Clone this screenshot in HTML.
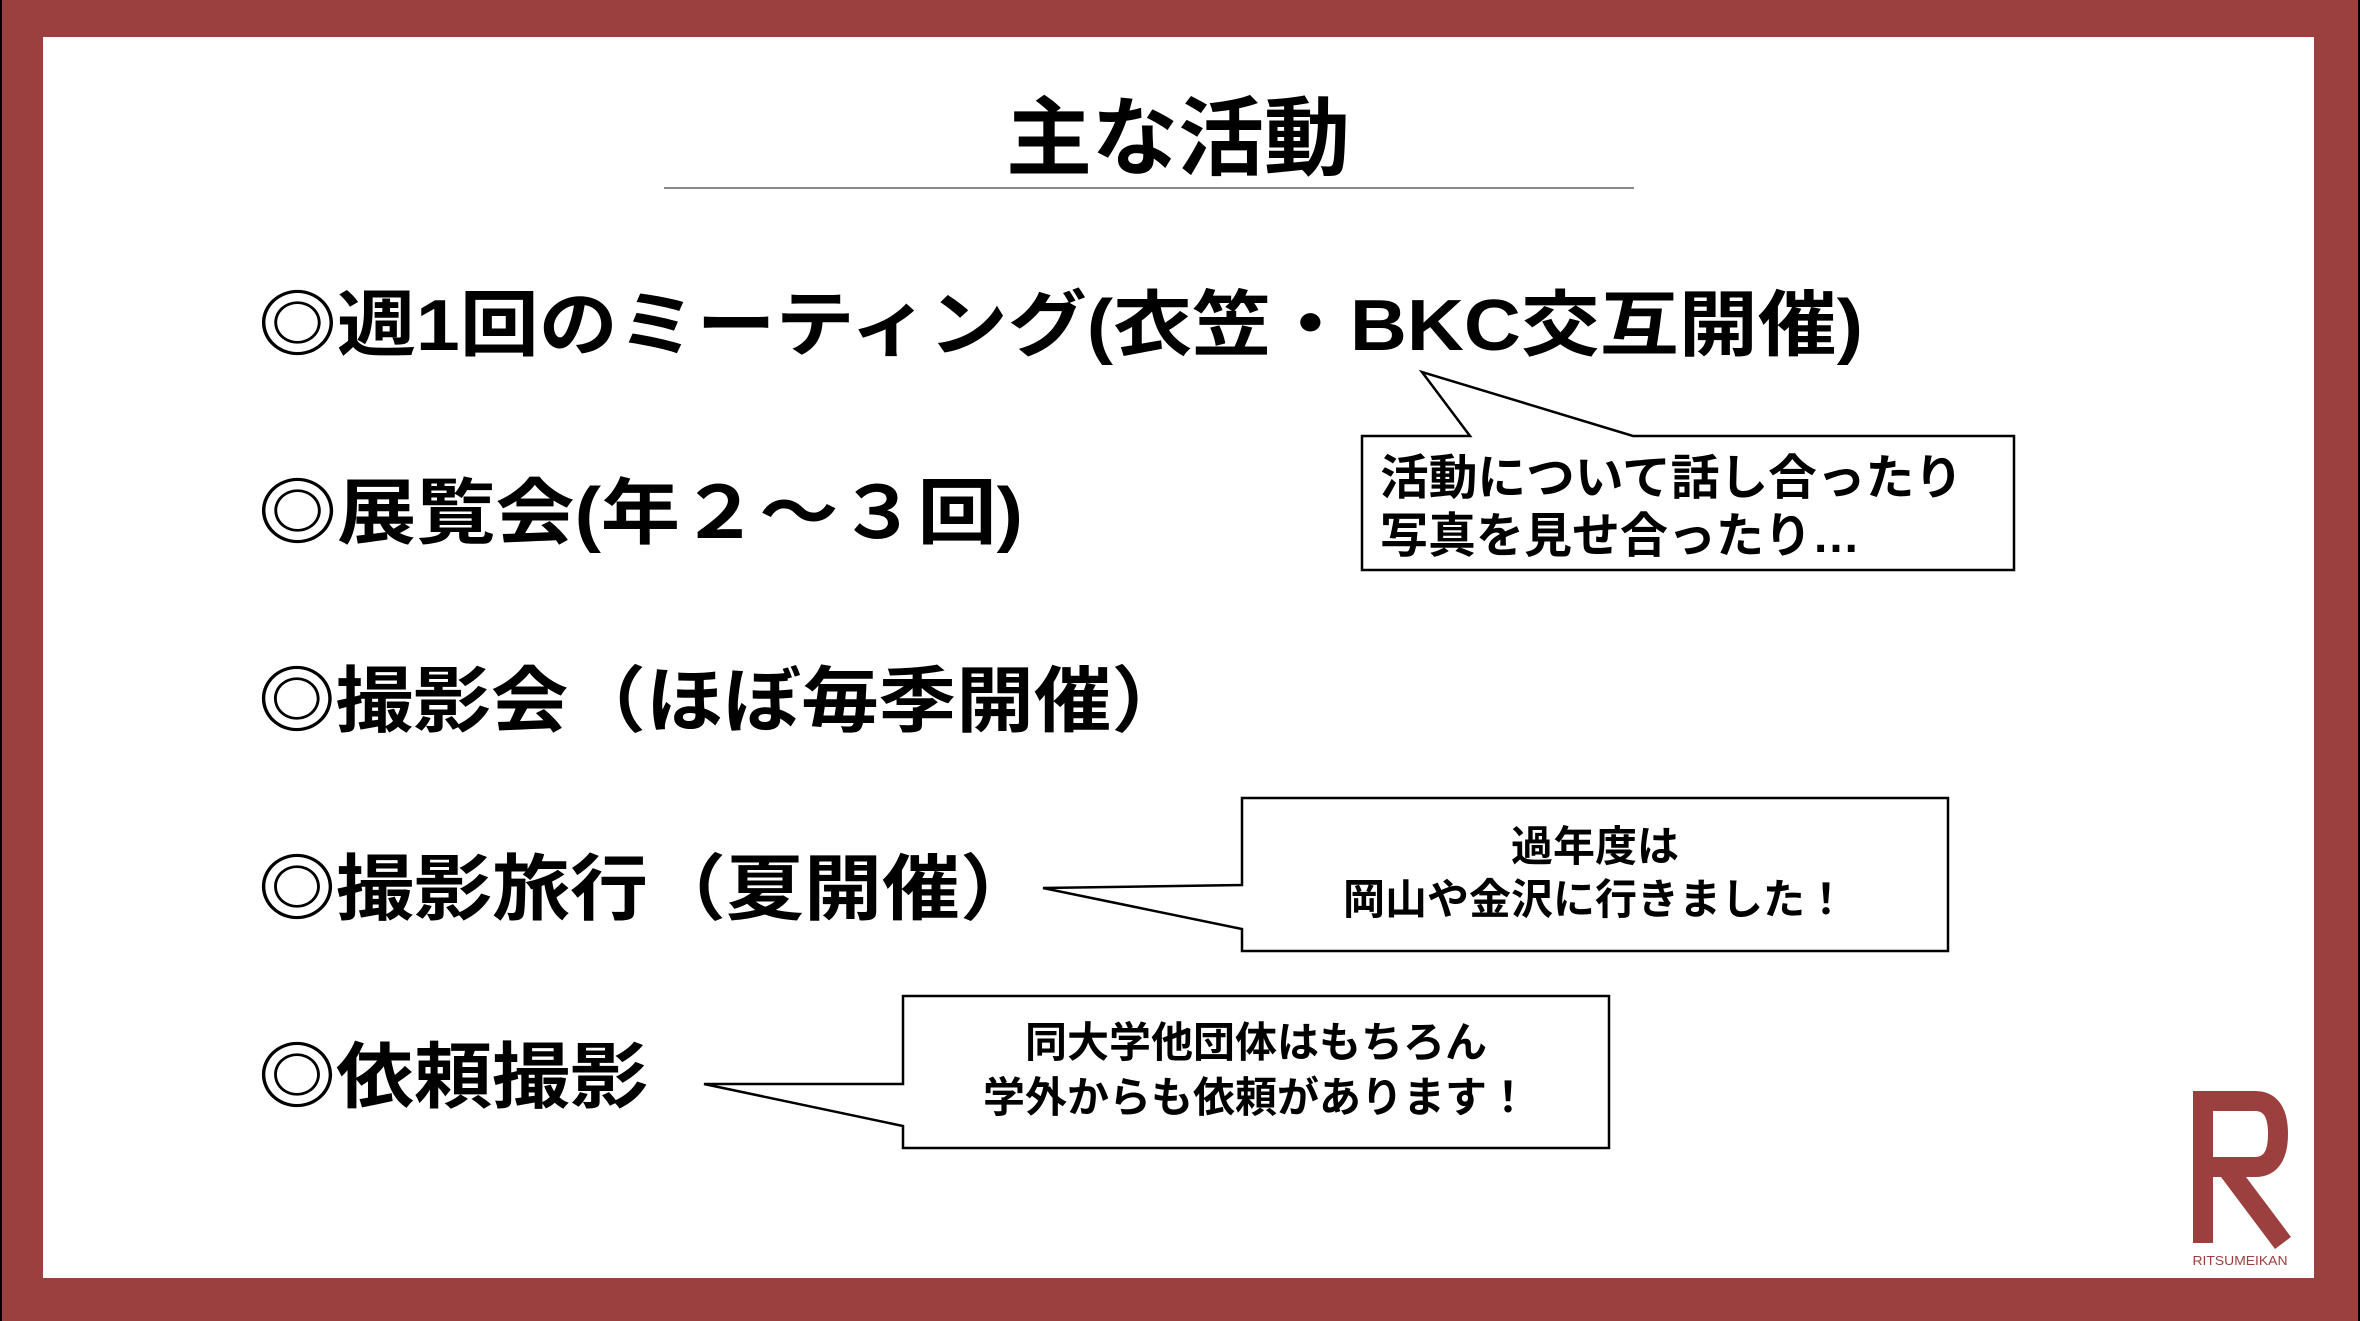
<!DOCTYPE html>
<html><head><meta charset="utf-8"><style>
html,body{margin:0;padding:0;background:#000;}
svg{display:block}
text{font-family:"Liberation Sans","Noto Sans CJK JP",sans-serif;font-weight:bold;fill:#000}
</style></head><body>
<svg width="2360" height="1321" viewBox="0 0 2360 1321" xmlns="http://www.w3.org/2000/svg">
<rect x="2" y="0" width="2356" height="1321" fill="#9b403f"/>
<rect x="43" y="37" width="2271" height="1241" fill="#fff"/>
<text x="1178" y="168" font-size="86" text-anchor="middle">主な活動</text>
<line x1="664" y1="188" x2="1634" y2="188" stroke="#888" stroke-width="2"/>
<g font-size="72">
<text x="258" y="350" textLength="1605" lengthAdjust="spacingAndGlyphs">◎週1回のミーティング(衣笠・BKC交互開催)</text>
<text x="258" y="538" textLength="765" lengthAdjust="spacingAndGlyphs">◎展覧会(年２～３回)</text>
<text x="258" y="726" textLength="931" lengthAdjust="spacingAndGlyphs">◎撮影会（ほぼ毎季開催）</text>
<text x="258" y="914" textLength="780" lengthAdjust="spacingAndGlyphs">◎撮影旅行（夏開催）</text>
<text x="258" y="1102" textLength="390" lengthAdjust="spacingAndGlyphs">◎依頼撮影</text>
</g>
<g fill="#fff" stroke="#000" stroke-width="2.5">
<path d="M1362 436 L1470 436 L1422 372 L1633 436 L2014 436 L2014 570 L1362 570 Z"/>
<path d="M1242 798 L1948 798 L1948 951 L1242 951 L1242 929 L1043 888 L1242 885 Z"/>
<path d="M903 996 L1609 996 L1609 1148 L903 1148 L903 1126 L704 1084 L903 1084 Z"/>
</g>
<g font-size="48">
<text x="1380" y="494" textLength="583" lengthAdjust="spacingAndGlyphs">活動について話し合ったり</text>
<text x="1380" y="552">写真を見せ合ったり…</text>
</g>
<g font-size="42" text-anchor="middle">
<text x="1595" y="861">過年度は</text>
<text x="1595" y="914">岡山や金沢に行きました！</text>
<text x="1256" y="1057">同大学他団体はもちろん</text>
<text x="1256" y="1112">学外からも依頼があります！</text>
</g>
<g fill="none" stroke="#9b403f" stroke-width="20">
<path d="M2203 1243 L2203 1101 L2255 1101 Q2278 1101 2278 1134 Q2278 1167 2255 1167 L2203 1167"/>
<path d="M2226 1167 L2283 1243"/>
</g>
<text x="2240" y="1265" font-size="13" text-anchor="middle" style="fill:#9b403f;font-weight:normal" textLength="95" lengthAdjust="spacingAndGlyphs">RITSUMEIKAN</text>
</svg>
</body></html>
